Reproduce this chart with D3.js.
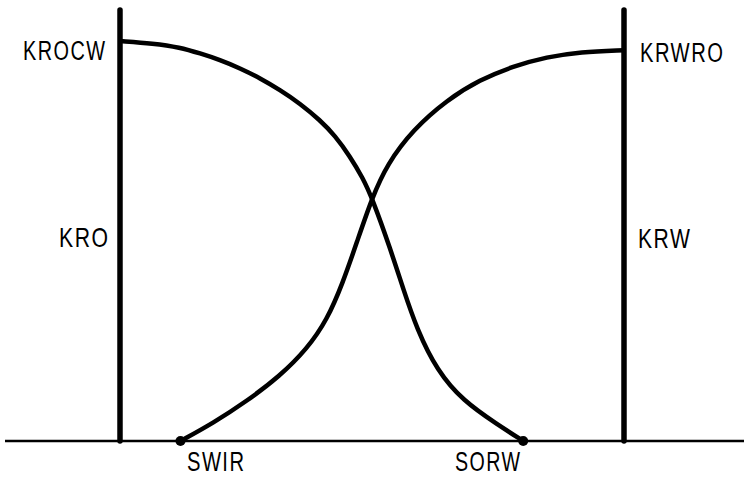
<!DOCTYPE html>
<html>
<head>
<meta charset="utf-8">
<script src="https://cdn.jsdelivr.net/npm/d3@7/dist/d3.min.js"></script>
<style>
  html, body { margin: 0; padding: 0; background: #fff; }
  svg { display: block; }
  text { font-family: "Liberation Sans", Arial, sans-serif; fill: #000; }
</style>
</head>
<body>
<svg id="chart" width="744" height="477"></svg>
<script>
// Water saturation (fraction) and relative permeabilities
const oilSw  = [0, 0.066, 0.119, 0.159, 0.198, 0.238, 0.278, 0.317, 0.357, 0.397, 0.427, 0.456, 0.482, 0.5, 0.536, 0.562, 0.589, 0.629, 0.681, 0.748, 0.8];
const kro    = [1.0, 0.994, 0.984, 0.969, 0.953, 0.932, 0.907, 0.878, 0.844, 0.802, 0.763, 0.712, 0.657, 0.608, 0.482, 0.38, 0.28, 0.176, 0.1, 0.042, 0];

const waterSw = [0.12, 0.185, 0.252, 0.317, 0.371, 0.411, 0.442, 0.47, 0.5, 0.53, 0.581, 0.649, 0.714, 0.78, 0.847, 0.913, 1.0];
const krw     = [0, 0.045, 0.1, 0.162, 0.23, 0.303, 0.395, 0.497, 0.608, 0.692, 0.778, 0.853, 0.903, 0.937, 0.96, 0.973, 0.977];

// End points
const swir = 0.12;
const sorw = 0.2;
const krocw = 1.0;
const krwro = 0.977;

// Text labels
const leftLabels  = ["KROCW", "KRO"];
const rightLabels = ["KRWRO", "KRW"];
const bottomLabels = ["SWIR", "SORW"];

const svg = d3.select("#chart");
const x = d3.scaleLinear().domain([0, 1]).range([120, 624]);
const y = d3.scaleLinear().domain([0, 1]).range([441, 41]);
const yTop = 10; // top of the vertical axes

// Baseline
svg.append("line")
  .attr("x1", 5).attr("x2", 744)
  .attr("y1", y(0)).attr("y2", y(0))
  .attr("stroke", "#000").attr("stroke-width", 2.5);

// Vertical axes at Sw = 0 and Sw = 1
svg.selectAll("line.axis").data([0, 1]).join("line")
  .attr("class", "axis")
  .attr("x1", d => x(d)).attr("x2", d => x(d))
  .attr("y1", yTop).attr("y2", y(0))
  .attr("stroke", "#000").attr("stroke-width", 5.5)
  .attr("stroke-linecap", "round");

// B-spline through the dense readings keeps the curves smooth
const line = d3.line()
  .x(d => x(d[0]))
  .y(d => y(d[1]))
  .curve(d3.curveBasis);

svg.append("path")
  .attr("d", line(d3.zip(oilSw, kro)))
  .attr("fill", "none").attr("stroke", "#000").attr("stroke-width", 4.5)
  .attr("stroke-linejoin", "round");

svg.append("path")
  .attr("d", line(d3.zip(waterSw, krw)))
  .attr("fill", "none").attr("stroke", "#000").attr("stroke-width", 4.5)
  .attr("stroke-linejoin", "round");

// End-point dots on the baseline
svg.selectAll("circle.end").data([swir, 1 - sorw]).join("circle")
  .attr("class", "end")
  .attr("cx", d => x(d)).attr("cy", y(0)).attr("r", 5)
  .attr("fill", "#000");

// Labels: narrow lettering, each scaled horizontally to its run length
const labels = [
  { t: leftLabels[0],   x: 23,  y: y(krocw) + 19, w: 82 },
  { t: leftLabels[1],   x: 59,  y: 247,           w: 49 },
  { t: rightLabels[0],  x: 640, y: y(krwro) + 12, w: 83 },
  { t: rightLabels[1],  x: 638, y: 248,           w: 52 },
  { t: bottomLabels[0], x: 187, y: 471,           w: 57 },
  { t: bottomLabels[1], x: 455, y: 471,           w: 65 }
];
svg.selectAll("text.lbl").data(labels).join("text")
  .attr("class", "lbl")
  .attr("font-size", 28)
  .attr("letter-spacing", 2)
  .text(d => d.t)
  .each(function (d) {
    const natural = this.getComputedTextLength() - 2; // drop trailing spacing
    const sx = d.w / natural;
    d3.select(this).attr("transform", `translate(${d.x},${d.y}) scale(${sx},1)`);
  });
</script>
</body>
</html>
